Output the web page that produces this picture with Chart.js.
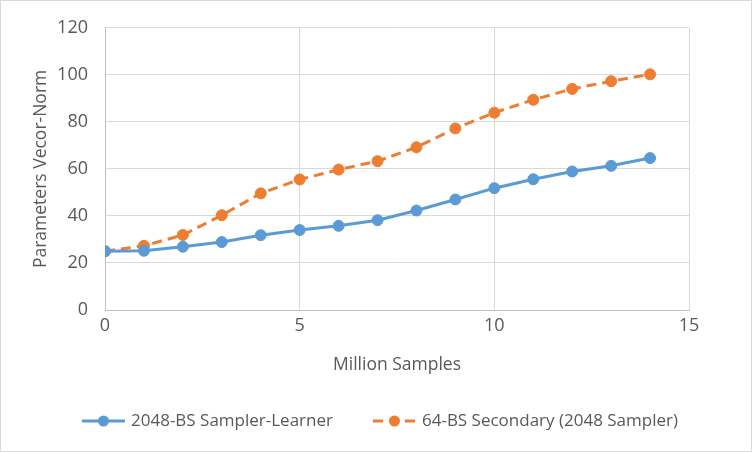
<!DOCTYPE html>
<html>
<head>
<meta charset="utf-8">
<script src="https://cdn.jsdelivr.net/npm/chart.js@4.4.1/dist/chart.umd.min.js"></script>
<style>
  html, body { margin: 0; padding: 0; background: #fff; }
  #wrap { width: 752px; height: 452px; }
</style>
</head>
<body>
<div id="wrap"><canvas id="c" width="752" height="452"></canvas></div>
<script>
const samples = [0, 1, 2, 3, 4, 5, 6, 7, 8, 9, 10, 11, 12, 13, 14];
const samplerLearner = [25, 25.2, 26.9, 28.9, 31.8, 34, 35.8, 38.2, 42.3, 47, 51.8, 55.6, 58.9, 61.3, 64.6];
const secondary = [25, 27.3, 31.9, 40.3, 49.6, 55.5, 59.7, 63.3, 69.2, 77.2, 83.9, 89.4, 94, 97.3, 100.2];
const seriesNames = ['2048-BS Sampler-Learner', '64-BS Secondary (2048 Sampler)'];

const FONT = '"Open Sans", sans-serif';
const TEXT = '#595959';

const toPoints = (vals) => vals.map((v, i) => ({ x: samples[i], y: v }));

// white background, thin frame and the bottom legend
const frame = {
  id: 'frame',
  beforeDraw(chart) {
    const { ctx, width, height } = chart;
    ctx.save();
    ctx.fillStyle = '#fff';
    ctx.fillRect(0, 0, width, height);
    ctx.strokeStyle = '#d9d9d9';
    ctx.lineWidth = 1;
    ctx.strokeRect(0.5, 0.5, width - 1, height - 1);
    ctx.restore();
  },
  afterDraw(chart) {
    const { ctx, width } = chart;
    const y = 421, lineLen = 43, gapText = 6, gapItem = 40;
    ctx.save();
    ctx.font = '17px ' + FONT;
    const items = chart.data.datasets.map(ds => ({ ds, w: ctx.measureText(ds.label).width }));
    const total = items.reduce((s, it) => s + lineLen + gapText + it.w, 0) + gapItem * (items.length - 1);
    let x = width / 2 + 4 - total / 2;
    items.forEach(({ ds, w }) => {
      ctx.strokeStyle = ds.borderColor;
      ctx.lineWidth = ds.borderWidth;
      ctx.setLineDash(ds.borderDash || []);
      ctx.beginPath();
      ctx.moveTo(x, y);
      ctx.lineTo(x + lineLen, y);
      ctx.stroke();
      ctx.setLineDash([]);
      ctx.fillStyle = ds.pointBackgroundColor;
      ctx.beginPath();
      ctx.arc(x + lineLen / 2, y, ds.pointRadius, 0, Math.PI * 2);
      ctx.fill();
      ctx.fillStyle = TEXT;
      ctx.textBaseline = 'middle';
      ctx.fillText(ds.label, x + lineLen + gapText, y);
      x += lineLen + gapText + w + gapItem;
    });
    ctx.restore();
  }
};

new Chart(document.getElementById('c'), {
  type: 'line',
  data: {
    datasets: [
      {
        label: seriesNames[0], data: toPoints(samplerLearner),
        borderColor: '#5b9bd5', backgroundColor: '#5b9bd5', borderWidth: 3,
        pointBackgroundColor: '#5b9bd5', pointBorderColor: '#5b9bd5', pointRadius: 5.5, pointBorderWidth: 1,
        tension: 0,
      },
      {
        label: seriesNames[1], data: toPoints(secondary),
        borderColor: '#ed7d31', backgroundColor: '#ed7d31', borderWidth: 3, borderDash: [10, 6],
        pointBackgroundColor: '#ed7d31', pointBorderColor: '#ed7d31', pointRadius: 5.5, pointBorderWidth: 1,
        tension: 0,
      },
    ],
  },
  options: {
    responsive: false, animation: false,
    layout: { padding: { left: 0, right: 63, top: 24, bottom: 0 } },
    plugins: { legend: { display: false }, tooltip: { enabled: false } },
    scales: {
      x: {
        type: 'linear', min: 0, max: 15,
        ticks: { stepSize: 5, color: TEXT, font: { family: FONT, size: 18 }, padding: 5 },
        grid: { color: '#d9d9d9', drawTicks: false },
        border: { color: '#bfbfbf' },
        title: { display: true, text: 'Million Samples', color: TEXT, font: { family: FONT, size: 17.5 }, padding: { top: 0, bottom: 76 } },
        afterFit(scale) { scale.height = 142; },
      },
      y: {
        min: 0, max: 120,
        ticks: { stepSize: 20, color: TEXT, font: { family: FONT, size: 18 }, padding: 17 },
        grid: { color: '#d9d9d9', drawTicks: false },
        border: { color: '#bfbfbf' },
        title: { display: true, text: 'Parameters Vecor-Norm', color: TEXT, font: { family: FONT, size: 17.5 }, padding: { top: 31, bottom: 0 } },
        afterFit(scale) { scale.width = 105; },
      },
    },
  },
  plugins: [frame],
});
</script>
</body>
</html>
